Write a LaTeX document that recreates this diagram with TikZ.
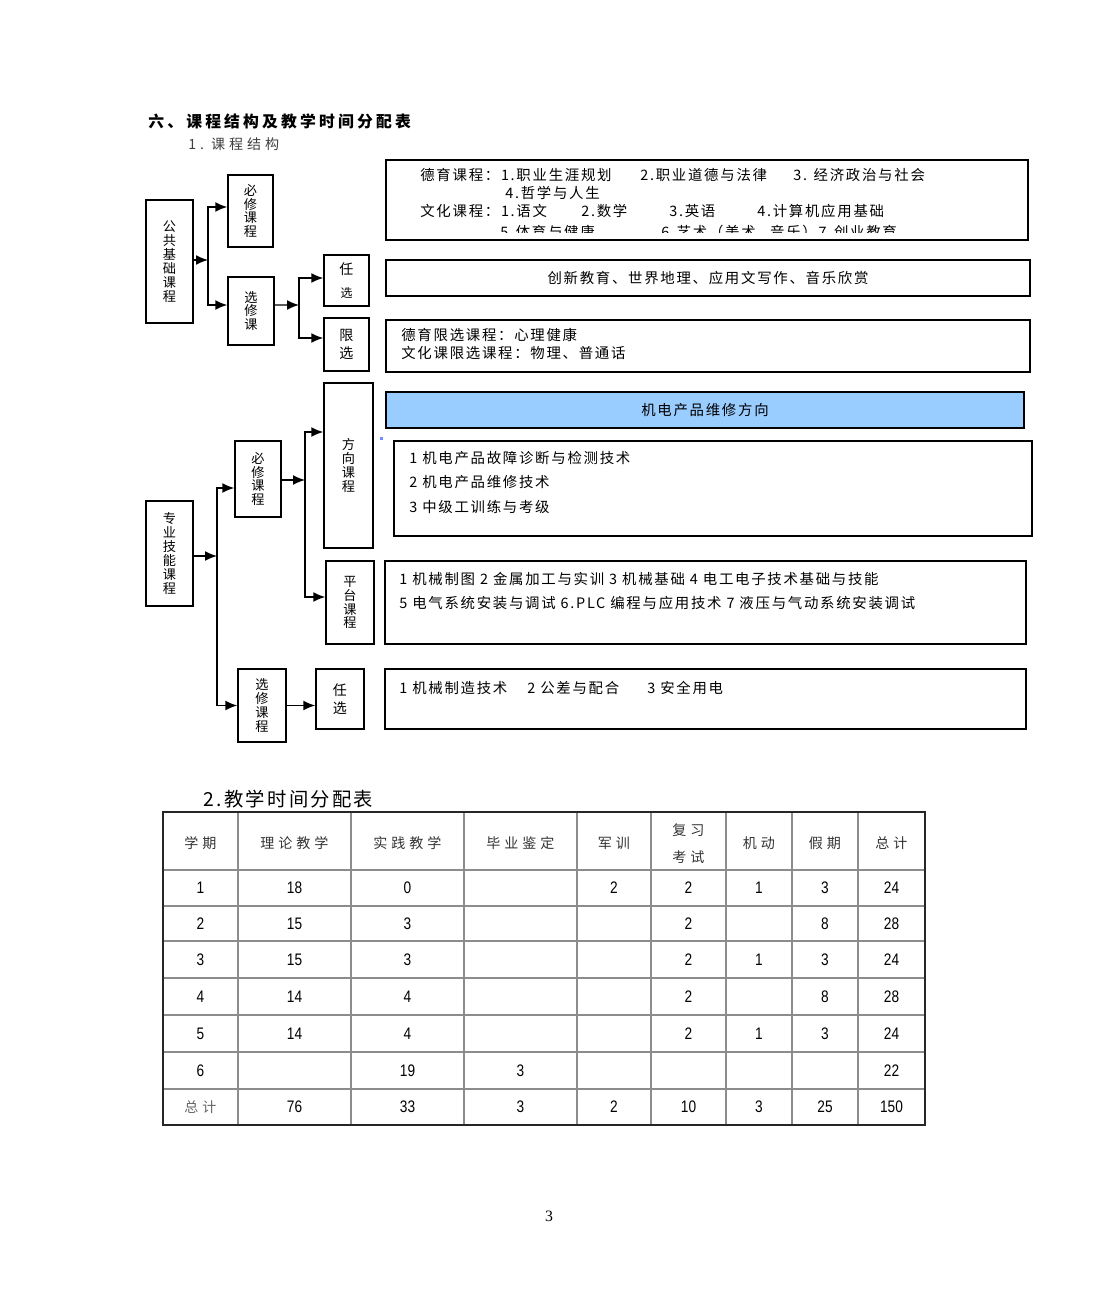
\documentclass[tikz,border=0pt]{standalone}
\usepackage{fontspec}
\setmainfont{Noto Sans CJK SC}
\newfontfamily\boxfont[LetterSpace=12]{Noto Sans CJK SC}
\newfontfamily\headfont[LetterSpace=28]{Noto Sans CJK SC}
\newfontfamily\titlefont[LetterSpace=20]{Noto Sans CJK SC}
\newfontfamily\numfont[FakeStretch=0.82]{Liberation Sans}
\newfontfamily\pagefont{Liberation Serif}
\usetikzlibrary{arrows.meta}

\definecolor{skyblue}{RGB}{153,204,255}

\tikzset{
  lbox/.style={draw, line width=0.85pt, inner sep=0pt, align=center,
    font=\fontsize{7.5}{7.9}\selectfont},
  tbox/.style={draw, line width=1.1pt, inner sep=0pt,
    font=\boxfont\fontsize{8.2}{10}\selectfont},
  line/.style={anchor=west, inner sep=0pt, font=\boxfont\fontsize{8.2}{10}\selectfont},
  arr/.style={line width=0.85pt, -{Latex[length=0.24cm,width=0.2cm]}},
  tline/.style={draw=black!45, line width=0.6pt},
  cell/.style={inner sep=0pt, font=\numfont\fontsize{9.5}{11}\selectfont},
  hcell/.style={inner sep=0pt, text=black!80, font=\headfont\fontsize{8}{10}\selectfont},
}

\begin{document}
\begin{tikzpicture}[x=0.02cm, y=-0.02cm]
  \useasboundingbox (0,0) rectangle (1100,1300);

  % headings
  \node[anchor=west, inner sep=0pt, font=\titlefont\bfseries\fontsize{9}{11}\selectfont] (title) at (148,121) {六、课程结构及教学时间分配表};
  \node[anchor=west, inner sep=0pt, text=black!75, font=\headfont\fontsize{8}{10}\selectfont] (sub1) at (188,144) {1.\ 课程结构};

  % public basic courses
  \node[lbox, minimum width=0.94cm, minimum height=2.46cm] (ggjc) at (169.5,261.5) {公\\共\\基\\础\\课\\程};
  \node[lbox, minimum width=0.9cm, minimum height=1.44cm] (bx1) at (250.5,211) {必\\修\\课\\程};
  \node[lbox, minimum width=0.92cm, minimum height=1.36cm] (xx1) at (251,311) {选\\修\\课};
  \node[lbox, minimum width=0.9cm, minimum height=1.02cm] (rx1) at (346.5,280.5) {\fontsize{8}{9}\selectfont 任\\[5pt]\fontsize{6.8}{7.5}\selectfont 选};
  \node[lbox, minimum width=0.9cm, minimum height=1.06cm, font=\fontsize{8}{10.2}\selectfont] (limit) at (346.5,344.5) {限\\选};

  \coordinate (j1) at (208,260);
  \coordinate (j2) at (299,305);
  \draw[arr] (ggjc.east |- j1) -- (j1);
  \draw[arr] (j1) |- ([yshift=0.08cm]bx1.west);
  \draw[arr] (j1) |- ([yshift=0.12cm]xx1.west);
  \draw[arr] ([yshift=0.12cm]xx1.east) -- (j2);
  \draw[arr] (j2) |- ([yshift=0.05cm]rx1.west);
  \draw[arr] (j2) |- ([yshift=0.13cm]limit.west);

  % compulsory list (last line cut by the frame)
  \begin{scope}
    \clip (386,161) rectangle (1028,233);
    \node[line] (de1) at (420,175) {德育课程：1.职业生涯规划};
    \node[line] (de2) at (640,175) {2.职业道德与法律};
    \node[line] (de3) at (793,175) {3. 经济政治与社会};
    \node[line] (de4) at (505,193) {4.哲学与人生};
    \node[line] (wh1) at (420,211) {文化课程：1.语文};
    \node[line] (wh2) at (581,211) {2.数学};
    \node[line] (wh3) at (669,211) {3.英语};
    \node[line] (wh4) at (757,211) {4.计算机应用基础};
    \node[line] (wh5) at (500,232) {5.体育与健康};
    \node[line] (wh6) at (661,232) {6.艺术（美术\quad 音乐）7.创业教育};
  \end{scope}
  \node[tbox, minimum width=12.84cm, minimum height=1.6cm] (bxlist) at (707,200) {};

  \node[tbox, minimum width=12.88cm, minimum height=0.72cm] (rxlist) at (708,278) {创新教育、世界地理、应用文写作、音乐欣赏};
  \node[tbox, minimum width=12.88cm, minimum height=1.04cm] (xxlist) at (708,346) {};
  \node[line] (xx-a) at (401,335) {德育限选课程：心理健康};
  \node[line] (xx-b) at (401,353) {文化课限选课程：物理、普通话};

  % professional skill courses
  \node[lbox, minimum width=0.94cm, minimum height=2.1cm] (zyjn) at (169.5,553.5) {专\\业\\技\\能\\课\\程};
  \node[lbox, minimum width=0.92cm, minimum height=1.52cm] (bx2) at (258,479) {必\\修\\课\\程};
  \node[lbox, minimum width=0.98cm, minimum height=3.3cm] (fxkc) at (348.5,465.5) {方\\向\\课\\程};
  \node[lbox, minimum width=0.96cm, minimum height=1.66cm] (ptkc) at (350,602.5) {平\\台\\课\\程};
  \node[lbox, minimum width=0.96cm, minimum height=1.46cm] (xx2) at (262,705.5) {选\\修\\课\\程};
  \node[lbox, minimum width=0.96cm, minimum height=1.2cm, font=\fontsize{8}{10.2}\selectfont] (rx2) at (340,699) {任\\选};

  \coordinate (j3) at (217,556);
  \coordinate (j4) at (305,480);
  \draw[arr] (zyjn.east |- j3) -- (j3);
  \draw[arr] (j3) |- ([yshift=-0.18cm]bx2.west);
  \draw[arr] (j3) |- (xx2.west);
  \draw[arr] (bx2.east |- j4) -- (j4);
  \draw[arr] (j4) |- ([yshift=0.67cm]fxkc.west);
  \draw[arr] (j4) |- ([yshift=0.11cm]ptkc.west);
  \draw[arr] (xx2.east) -- (xx2.east -| rx2.west);

  \node[tbox, fill=skyblue, minimum width=12.76cm, minimum height=0.72cm] (fxname) at (705,410) {机电产品维修方向};
  \fill[skyblue!70!blue] (380,437) rectangle (383,440);
  \node[tbox, minimum width=12.76cm, minimum height=1.9cm] (fxlist) at (713,488.5) {};
  \node[line] (fx1) at (409,458) {1 机电产品故障诊断与检测技术};
  \node[line] (fx2) at (409,482) {2 机电产品维修技术};
  \node[line] (fx3) at (409,507) {3 中级工训练与考级};

  \node[tbox, minimum width=12.82cm, minimum height=1.66cm] (ptlist) at (705.5,602.5) {};
  \node[line] (pt1) at (399,579) {1 机械制图 2 金属加工与实训 3 机械基础 4 电工电子技术基础与技能};
  \node[line] (pt2) at (399,603) {5 电气系统安装与调试 6.PLC 编程与应用技术 7 液压与气动系统安装调试};

  \node[tbox, minimum width=12.82cm, minimum height=1.2cm] (rxlist2) at (705.5,699) {};
  \node[line] (rx-a) at (399,688) {1 机械制造技术};
  \node[line] (rx-b) at (527,688) {2 公差与配合};
  \node[line] (rx-c) at (647,688) {3 安全用电};

  % teaching time table
  \node[anchor=west, inner sep=0pt, font=\boxfont\fontsize{11}{13}\selectfont] (title2) at (203,799) {2.教学时间分配表};

  \foreach \xa in {238,351,464,577,651,726,792,858}
    \draw[tline] (\xa,812) -- (\xa,1125);
  \foreach \ya in {870,906,941,978,1015,1052,1089}
    \draw[tline] (163,\ya) -- (925,\ya);
  \draw[line width=0.7pt, draw=black!85] (163,812) rectangle (925,1125);

  \def\colx{{200.5,294.5,407.5,520.5,614,688.5,759,825,891.5}}
  \def\rowy{{888,923.5,959.5,996.5,1033.5,1070.5,1107}}

  \foreach \t [count=\i] in {学期,理论教学,实践教学,毕业鉴定,军训,,机动,假期,总计} {
    \pgfmathsetmacro\cx{\colx[\i-1]}
    \node[hcell] (h\i) at (\cx,843) {\t};
  }
  \node[hcell] (h6a) at (688.5,830) {复习};
  \node[hcell] (h6b) at (688.5,857) {考试};

  \foreach \vals [count=\r] in {{1,18,0,,2,2,1,3,24},{2,15,3,,,2,,8,28},{3,15,3,,,2,1,3,24},
      {4,14,4,,,2,,8,28},{5,14,4,,,2,1,3,24},{6,,19,3,,,,,22},{,76,33,3,2,10,3,25,150}} {
    \pgfmathsetmacro\cy{\rowy[\r-1]}
    \foreach \v [count=\c] in \vals {
      \pgfmathsetmacro\cx{\colx[\c-1]}
      \node[cell] (c\r-\c) at (\cx,\cy) {\v};
    }
  }
  \node[hcell, text=black!60] (sum) at (200.5,1107) {总计};

  \node[font=\pagefont\fontsize{9}{10}\selectfont, inner sep=0pt] (pageno) at (549,1216) {3};
\end{tikzpicture}
\end{document}
